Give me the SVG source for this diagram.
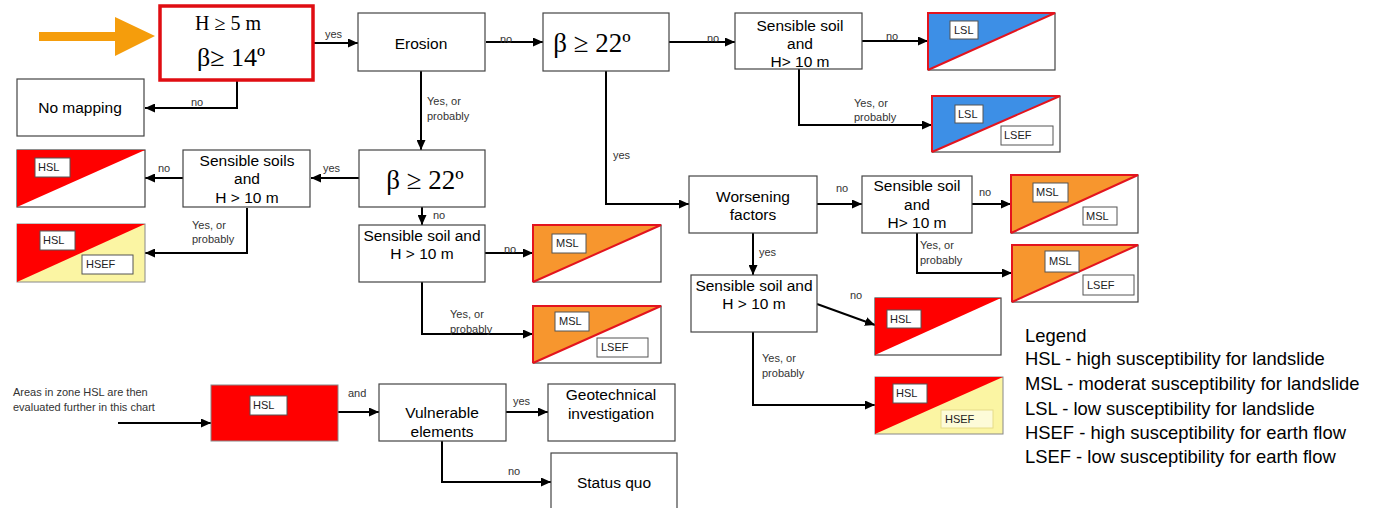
<svg xmlns="http://www.w3.org/2000/svg" width="1376" height="508" viewBox="0 0 1376 508">
<defs>
<marker id="ah" markerUnits="userSpaceOnUse" markerWidth="11" markerHeight="9" refX="10" refY="4.5" orient="auto"><path d="M0,0 L10,4.5 L0,9 z" fill="#000"/></marker>
</defs>
<style>
.box{fill:#fff;stroke:#444;stroke-width:1.2}
.t{font-family:"Liberation Sans",Arial,sans-serif;font-size:15.5px;fill:#000;text-anchor:middle}
.s{font-family:"Liberation Serif","Times New Roman",serif;fill:#000;text-anchor:middle}
.lbl{font-family:"Liberation Sans",Arial,sans-serif;font-size:11px;fill:#333}
.c{fill:none;stroke:#000;stroke-width:2;marker-end:url(#ah)}
.cn{fill:none;stroke:#000;stroke-width:2}
.tag{fill:#fff;stroke:#555;stroke-width:1}
.tt{font-family:"Liberation Sans",Arial,sans-serif;font-size:11px;fill:#222}
.red{fill:#f00}
.blue{fill:#3d8fe6}
.orange{fill:#f7962e}
.yellow{fill:#fbf5a3}
.rl{fill:none;stroke:#e3141e;stroke-width:2}
.leg{font-family:"Liberation Sans",Arial,sans-serif;font-size:18.4px;fill:#000}
</style>
<rect width="1376" height="508" fill="#fff"/>

<polygon id="start-arrow" points="39,32 115,32 115,17 155,36 115,56 115,41 39,41" fill="#f59d0c"/>

<g id="connectors">
<path class="c" d="M237,81 V108 H145"/><text class="lbl" x="191" y="106">no</text>
<path class="c" d="M313,43 H358"/><text class="lbl" x="325" y="38">yes</text>
<path class="c" d="M486,42 H543"/><text class="lbl" x="500" y="43">no</text>
<path class="c" d="M669,42 H735"/><text class="lbl" x="707" y="42">no</text>
<path class="c" d="M862,41 H928"/><text class="lbl" x="886" y="40">no</text>
<path class="c" d="M799,69 V125 H932"/><text class="lbl" x="854" y="107">Yes, or</text><text class="lbl" x="854" y="121">probably</text>
<path class="c" d="M606,71 V204 H689"/><text class="lbl" x="613" y="159">yes</text>
<path class="c" d="M421,71 V150"/><text class="lbl" x="427" y="105">Yes, or</text><text class="lbl" x="427" y="120">probably</text>
<path class="c" d="M359,178 H311"/><text class="lbl" x="323" y="172">yes</text>
<path class="c" d="M183,178 H145"/><text class="lbl" x="158" y="172">no</text>
<path class="c" d="M247,208 V253 H145"/><text class="lbl" x="192" y="229">Yes, or</text><text class="lbl" x="192" y="243">probably</text>
<path class="c" d="M422,207 V225"/><text class="lbl" x="433" y="219">no</text>
<path class="c" d="M485,253 H533"/><text class="lbl" x="504" y="253">no</text>
<path class="c" d="M422,282 V334 H533"/><text class="lbl" x="450" y="318">Yes, or</text><text class="lbl" x="450" y="333">probably</text>
<path class="c" d="M817,204 H862"/><text class="lbl" x="836" y="192">no</text>
<path class="c" d="M972,204 H1011"/><text class="lbl" x="979" y="196">no</text>
<path class="c" d="M917,233 V273 H1012"/><text class="lbl" x="920" y="249">Yes, or</text><text class="lbl" x="920" y="264">probably</text>
<path class="c" d="M753,233 V275"/><text class="lbl" x="759" y="256">yes</text>
<path class="c" d="M817,304 L875,325"/><text class="lbl" x="850" y="299">no</text>
<path class="c" d="M753,332 V405 H875"/><text class="lbl" x="762" y="362">Yes, or</text><text class="lbl" x="762" y="377">probably</text>
<path class="c" d="M118,423 H211"/>
<path class="c" d="M338,412 H379"/><text class="lbl" x="348" y="397">and</text>
<path class="c" d="M506,412 H548"/><text class="lbl" x="513" y="405">yes</text>
<path class="c" d="M442,441 V482 H551"/><text class="lbl" x="508" y="475">no</text>
</g>

<g id="start">
<rect x="160" y="6" width="153" height="74" fill="#fff" stroke="#e00d12" stroke-width="3.5"/>
<text class="s" x="228" y="30" font-size="20">H ≥ 5 m</text>
<text class="s" x="231" y="66" font-size="26">β≥ 14º</text>
</g>
<g id="no-mapping"><rect class="box" x="17" y="79" width="127" height="57"/><text class="t" x="80" y="113">No mapping</text></g>
<g id="erosion"><rect class="box" x="358" y="13" width="127" height="58"/><text class="t" x="421" y="49">Erosion</text></g>
<g id="beta22-top"><rect class="box" x="543" y="13" width="126" height="58"/><text class="s" x="592" y="52" font-size="27">β ≥ 22º</text></g>
<g id="sens-top"><rect class="box" x="735" y="13" width="127" height="56"/><text class="t" x="800" y="31">Sensible soil</text><text class="t" x="800" y="49">and</text><text class="t" x="800" y="67">H&gt; 10 m</text></g>

<g id="lsl-1">
<rect class="box" x="928" y="13" width="127" height="57"/>
<polygon class="blue" points="928,13 1055,13 928,70"/>
<path class="rl" d="M928,70 V13 H1055 L928,70"/>
<rect class="tag" x="950" y="21" width="28" height="18"/><text class="tt" x="954" y="34">LSL</text>
</g>
<g id="lsl-lsef">
<rect class="box" x="932" y="96" width="128" height="56"/>
<polygon class="blue" points="932,96 1060,96 932,152"/>
<path class="rl" d="M932,152 V96 H1060 L932,152"/>
<rect class="tag" x="955" y="105" width="28" height="18"/><text class="tt" x="958" y="118">LSL</text>
<rect class="tag" x="1001" y="126" width="52" height="19"/><text class="tt" x="1004" y="139">LSEF</text>
</g>

<g id="beta22-mid"><rect class="box" x="359" y="150" width="126" height="57"/><text class="s" x="425" y="189" font-size="27">β ≥ 22º</text></g>
<g id="sens-soils"><rect class="box" x="183" y="150" width="127" height="57"/><text class="t" x="247" y="166">Sensible soils</text><text class="t" x="247" y="184">and</text><text class="t" x="247" y="203">H &gt; 10 m</text></g>
<g id="hsl-1">
<rect class="box" x="17" y="150" width="128" height="57"/>
<polygon class="red" points="17,150 145,150 17,207"/>
<rect class="tag" x="35" y="158" width="35" height="19"/><text class="tt" x="38" y="171">HSL</text>
</g>
<g id="hsl-hsef-1">
<rect class="yellow" x="17" y="224" width="128" height="58" stroke="#888" stroke-width="1"/>
<polygon class="red" points="17,224 145,224 17,282"/>
<rect class="tag" x="40" y="231" width="35" height="19"/><text class="tt" x="43" y="244">HSL</text>
<rect class="tag" x="82" y="255" width="51" height="19"/><text class="tt" x="86" y="268">HSEF</text>
</g>
<g id="sens-mid"><rect class="box" x="359" y="225" width="126" height="57"/><text class="t" x="422" y="241">Sensible soil and</text><text class="t" x="422" y="259">H &gt; 10 m</text></g>
<g id="msl-1">
<rect class="box" x="533" y="225" width="128" height="57"/>
<polygon class="orange" points="533,225 661,225 533,282"/>
<path class="rl" d="M533,282 V225 H661 L533,282"/>
<rect class="tag" x="552" y="234" width="34" height="19"/><text class="tt" x="556" y="247">MSL</text>
</g>
<g id="msl-lsef-1">
<rect class="box" x="533" y="306" width="128" height="57"/>
<polygon class="orange" points="533,306 661,306 533,363"/>
<path class="rl" d="M533,363 V306 H661 L533,363"/>
<rect class="tag" x="555" y="312" width="34" height="19"/><text class="tt" x="559" y="325">MSL</text>
<rect class="tag" x="597" y="338" width="51" height="19"/><text class="tt" x="601" y="351">LSEF</text>
</g>

<g id="worsening"><rect class="box" x="689" y="176" width="128" height="57"/><text class="t" x="753" y="202">Worsening</text><text class="t" x="753" y="220">factors</text></g>
<g id="sens-right"><rect class="box" x="862" y="176" width="110" height="57"/><text class="t" x="917" y="191">Sensible soil</text><text class="t" x="917" y="210">and</text><text class="t" x="917" y="228">H&gt; 10 m</text></g>
<g id="msl-msl">
<rect class="box" x="1011" y="175" width="127" height="58"/>
<polygon class="orange" points="1011,175 1138,175 1011,233"/>
<path class="rl" d="M1011,233 V175 H1138 L1011,233"/>
<rect class="tag" x="1033" y="183" width="35" height="19"/><text class="tt" x="1036" y="196">MSL</text>
<rect class="tag" x="1083" y="207" width="34" height="18"/><text class="tt" x="1086" y="220">MSL</text>
</g>
<g id="msl-lsef-2">
<rect class="box" x="1012" y="245" width="126" height="57"/>
<polygon class="orange" points="1012,245 1138,245 1012,302"/>
<path class="rl" d="M1012,302 V245 H1138 L1012,302"/>
<rect class="tag" x="1045" y="251" width="34" height="21"/><text class="tt" x="1049" y="265">MSL</text>
<rect class="tag" x="1083" y="275" width="51" height="20"/><text class="tt" x="1087" y="289">LSEF</text>
</g>
<g id="sens-low"><rect class="box" x="691" y="275" width="126" height="57"/><text class="t" x="754" y="291">Sensible soil and</text><text class="t" x="754" y="309">H &gt; 10 m</text></g>
<g id="hsl-2">
<rect class="box" x="875" y="298" width="126" height="57"/>
<polygon class="red" points="875,298 1001,298 875,355"/>
<rect class="tag" x="887" y="310" width="34" height="18"/><text class="tt" x="890" y="323">HSL</text>
</g>
<g id="hsl-hsef-2">
<rect class="yellow" x="875" y="377" width="128" height="57" stroke="#888" stroke-width="1"/>
<polygon class="red" points="875,377 1003,377 875,434"/>
<rect class="tag" x="893" y="384" width="34" height="19"/><text class="tt" x="896" y="397">HSL</text>
<rect x="941" y="410" width="52" height="18" fill="#fdfbd8" stroke="#e6dc8a" stroke-width="1"/><text class="tt" x="945" y="423">HSEF</text>
</g>

<g id="note"><text class="lbl" x="13" y="396" font-size="10">Areas in zone HSL are then</text><text class="lbl" x="13" y="411" font-size="10">evaluated further in this chart</text></g>
<g id="hsl-zone">
<rect x="211" y="385" width="127" height="56" fill="#f00" stroke="#888" stroke-width="1"/>
<rect class="tag" x="250" y="396" width="37" height="19"/><text class="tt" x="253" y="409">HSL</text>
</g>
<g id="vulnerable"><rect class="box" x="379" y="384" width="127" height="57"/><text class="t" x="442" y="418">Vulnerable</text><text class="t" x="442" y="437">elements</text></g>
<g id="geotech"><rect class="box" x="548" y="384" width="127" height="57"/><text class="t" x="611" y="400">Geotechnical</text><text class="t" x="611" y="419">investigation</text></g>
<g id="status-quo"><rect class="box" x="551" y="453" width="126" height="60"/><text class="t" x="614" y="488">Status quo</text></g>

<g id="legend">
<text class="leg" x="1025" y="342">Legend</text>
<text class="leg" x="1025" y="365">HSL - high susceptibility for landslide</text>
<text class="leg" x="1025" y="390">MSL - moderat susceptibility for landslide</text>
<text class="leg" x="1025" y="415">LSL - low susceptibility for landslide</text>
<text class="leg" x="1025" y="439">HSEF - high susceptibility for earth flow</text>
<text class="leg" x="1025" y="463">LSEF - low susceptibility for earth flow</text>
</g>
</svg>
